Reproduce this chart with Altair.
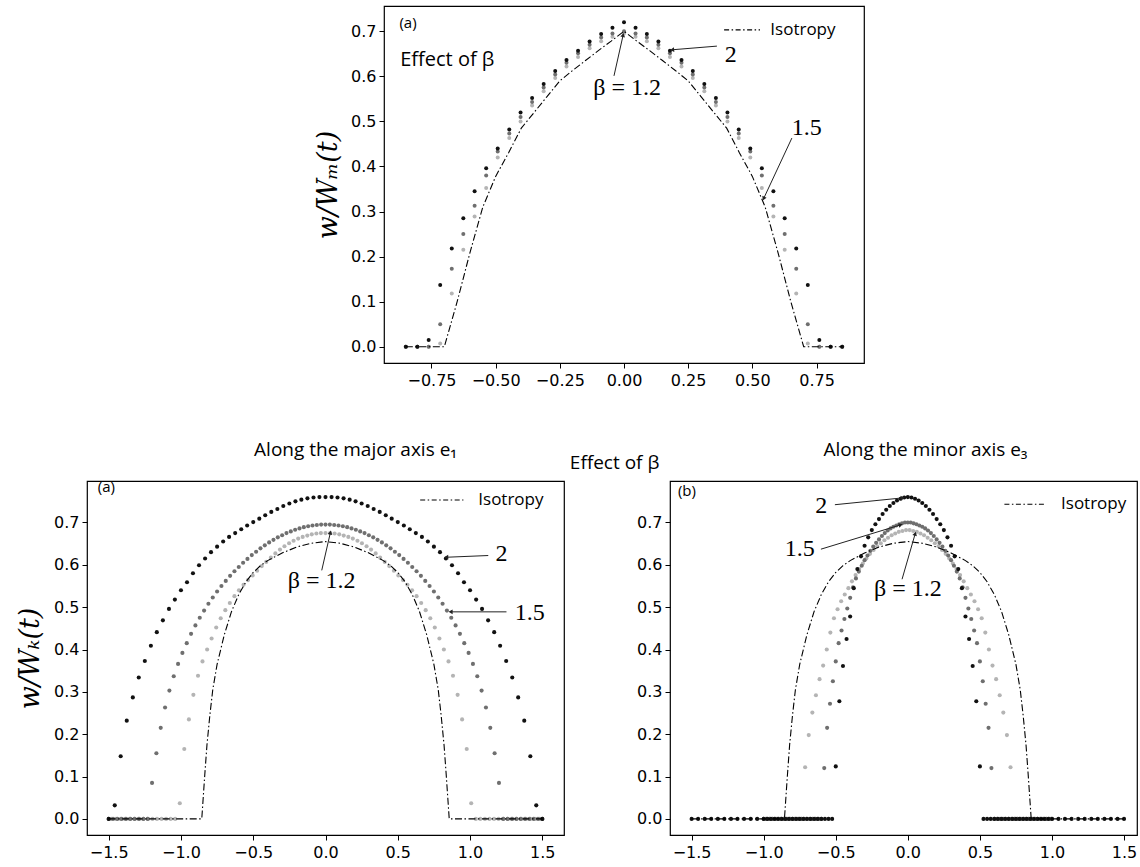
import math
import altair as alt
import pandas as pd

# ------------------------------------------------------------------ data
# Top panel (a): "Effect of beta" (half profiles, x >= 0, curves are symmetric)
top_x_half = [0.0, 0.045, 0.089, 0.134, 0.179, 0.224, 0.268, 0.313, 0.358, 0.403,
              0.447, 0.492, 0.537, 0.582, 0.626, 0.671, 0.716, 0.761, 0.805, 0.85]
top_beta2 = [0.720, 0.708, 0.694, 0.677, 0.657, 0.636, 0.612, 0.583, 0.552, 0.520,
             0.482, 0.440, 0.396, 0.345, 0.285, 0.218, 0.137, 0.015, 0.0, 0.0]
top_beta15 = [0.700, 0.695, 0.686, 0.670, 0.651, 0.630, 0.604, 0.575, 0.543, 0.510,
              0.473, 0.433, 0.380, 0.313, 0.250, 0.173, 0.050, 0.0, 0.0, 0.0]
top_beta12 = [0.695, 0.688, 0.678, 0.662, 0.643, 0.622, 0.596, 0.567, 0.535, 0.500,
              0.463, 0.420, 0.352, 0.289, 0.215, 0.118, 0.007, 0.0, 0.0, 0.0]
top_iso_x = [0.0, 0.05, 0.1, 0.15, 0.2, 0.25, 0.3, 0.35, 0.4, 0.45, 0.5, 0.55,
             0.6, 0.65, 0.7, 0.75, 0.8, 0.85]
top_iso_y = [0.700, 0.678, 0.657, 0.635, 0.613, 0.590, 0.555, 0.520, 0.485, 0.430,
             0.378, 0.310, 0.209, 0.100, 0.0, 0.0, 0.0, 0.0]

# Bottom-left (a): along the major axis e1
maj_b2_x = [0.0, 0.042, 0.083, 0.125, 0.167, 0.208, 0.25, 0.292, 0.333, 0.375,
            0.417, 0.458, 0.5, 0.542, 0.583, 0.625, 0.667, 0.708, 0.75, 0.792,
            0.833, 0.875, 0.917, 0.958, 1.0, 1.042, 1.083, 1.125, 1.167, 1.208,
            1.25, 1.292, 1.333, 1.375, 1.417, 1.458, 1.5]
maj_b2_y = [0.760, 0.760, 0.759, 0.757, 0.754, 0.750, 0.745, 0.739, 0.732, 0.725,
            0.717, 0.709, 0.701, 0.693, 0.684, 0.675, 0.666, 0.655, 0.643, 0.630,
            0.615, 0.599, 0.580, 0.559, 0.540, 0.518, 0.496, 0.469, 0.441, 0.409,
            0.373, 0.334, 0.287, 0.232, 0.148, 0.032, 0.0]
maj_b15_x = [0.0, 0.03, 0.06, 0.09, 0.12, 0.15, 0.18, 0.21, 0.24, 0.27,
             0.3, 0.33, 0.36, 0.39, 0.42, 0.45, 0.48, 0.51, 0.54, 0.57,
             0.6, 0.63, 0.66, 0.69, 0.72, 0.75, 0.78, 0.81, 0.84, 0.87,
             0.9, 0.93, 0.96, 0.99, 1.02, 1.05, 1.08, 1.11, 1.14, 1.17,
             1.2, 1.23, 1.26, 1.29, 1.32, 1.35, 1.38, 1.41, 1.44, 1.47, 1.5]
maj_b15_y = [0.695, 0.695, 0.694, 0.693, 0.691, 0.689, 0.686, 0.683, 0.679, 0.675,
             0.670, 0.665, 0.659, 0.653, 0.646, 0.639, 0.631, 0.623, 0.614, 0.605,
             0.595, 0.585, 0.574, 0.562, 0.550, 0.537, 0.523, 0.508, 0.492, 0.475,
             0.457, 0.437, 0.415, 0.392, 0.366, 0.337, 0.303, 0.263, 0.215, 0.155,
             0.085, 0.0, 0.0, 0.0, 0.0, 0.0, 0.0, 0.0, 0.0, 0.0, 0.0]
maj_b12_x = [0.0, 0.032, 0.063, 0.095, 0.126, 0.158, 0.189, 0.221, 0.252, 0.284,
             0.315, 0.347, 0.378, 0.41, 0.441, 0.473, 0.504, 0.536, 0.567, 0.599,
             0.63, 0.662, 0.693, 0.725, 0.756, 0.788, 0.819, 0.851, 0.882, 0.914,
             0.945, 0.977, 1.008, 1.04, 1.071, 1.103, 1.134, 1.166, 1.197, 1.229,
             1.26, 1.292, 1.323, 1.355, 1.386, 1.418, 1.449, 1.481]
maj_b12_y = [0.675, 0.675, 0.674, 0.672, 0.669, 0.666, 0.662, 0.657, 0.651, 0.644,
             0.636, 0.627, 0.617, 0.607, 0.597, 0.586, 0.575, 0.564, 0.553, 0.540,
             0.526, 0.510, 0.493, 0.474, 0.452, 0.426, 0.400, 0.372, 0.338, 0.293,
             0.235, 0.165, 0.037, 0.0, 0.0, 0.0, 0.0, 0.0, 0.0, 0.0,
             0.0, 0.0, 0.0, 0.0, 0.0, 0.0, 0.0, 0.0]
iso_x = [0.0, 0.1, 0.2, 0.3, 0.4, 0.45, 0.5, 0.55, 0.6, 0.65, 0.7, 0.75, 0.78,
         0.8, 0.82, 0.835, 0.848, 0.856, 0.9, 1.0, 1.1, 1.2, 1.3, 1.4, 1.5]
iso_y = [0.655, 0.651, 0.642, 0.628, 0.610, 0.598, 0.582, 0.560, 0.530, 0.490,
         0.435, 0.365, 0.305, 0.245, 0.175, 0.105, 0.040, 0.0, 0.0, 0.0, 0.0,
         0.0, 0.0, 0.0, 0.0]

# Bottom-right (b): along the minor axis e3
min_b2_x = [0.0, 0.025, 0.05, 0.075, 0.1, 0.125, 0.15, 0.175, 0.2, 0.225,
            0.25, 0.275, 0.3, 0.325, 0.35, 0.375, 0.4, 0.425, 0.45, 0.475, 0.5,
            0.525, 0.55, 0.575, 0.6, 0.625, 0.65, 0.675, 0.7, 0.725, 0.75,
            0.775, 0.8, 0.825, 0.85, 0.875, 0.9, 0.925, 0.95, 0.975, 1.0,
            1.045, 1.09, 1.136, 1.182, 1.227, 1.273, 1.318, 1.364, 1.409, 1.455, 1.5]
min_b2_y = [0.760, 0.759, 0.756, 0.752, 0.746, 0.739, 0.730, 0.720, 0.708, 0.696,
            0.682, 0.665, 0.645, 0.620, 0.590, 0.545, 0.478, 0.425, 0.361, 0.278, 0.124,
            0.0, 0.0, 0.0, 0.0, 0.0, 0.0, 0.0, 0.0, 0.0, 0.0,
            0.0, 0.0, 0.0, 0.0, 0.0, 0.0, 0.0, 0.0, 0.0, 0.0,
            0.0, 0.0, 0.0, 0.0, 0.0, 0.0, 0.0, 0.0, 0.0, 0.0, 0.0]
min_b15_x = [0.0, 0.02, 0.04, 0.06, 0.08, 0.1, 0.12, 0.14, 0.16, 0.18,
             0.2, 0.22, 0.24, 0.26, 0.28, 0.3, 0.32, 0.34, 0.36, 0.38,
             0.4, 0.42, 0.44, 0.46, 0.48, 0.5, 0.52, 0.54, 0.56, 0.58,
             0.6, 0.62, 0.64, 0.66, 0.68, 0.7, 0.72, 0.74, 0.76, 0.78,
             0.8, 0.82, 0.84, 0.86, 0.88, 0.9, 0.92, 0.94, 0.96, 0.98, 1.0]
min_b15_y = [0.700, 0.700, 0.698, 0.696, 0.693, 0.690, 0.686, 0.681, 0.675, 0.668,
             0.660, 0.652, 0.643, 0.633, 0.622, 0.611, 0.598, 0.584, 0.568, 0.547,
             0.522, 0.497, 0.472, 0.445, 0.415, 0.372, 0.325, 0.272, 0.215, 0.120,
             0.0, 0.0, 0.0, 0.0, 0.0, 0.0, 0.0, 0.0, 0.0, 0.0,
             0.0, 0.0, 0.0, 0.0, 0.0, 0.0, 0.0, 0.0, 0.0, 0.0, 0.0]
min_b12_x = [0.0125, 0.0375, 0.0625, 0.0875, 0.1125, 0.1375, 0.1625, 0.1875, 0.2125, 0.2375,
             0.2625, 0.2875, 0.3125, 0.3375, 0.3625, 0.3875, 0.4125, 0.4375, 0.4625, 0.4875,
             0.5125, 0.5375, 0.5625, 0.5875, 0.6125, 0.6375, 0.6625, 0.6875, 0.7125, 0.7375,
             0.7625, 0.7875, 0.8125, 0.8375, 0.8625, 0.8875, 0.9125, 0.9375, 0.9625, 0.9875]
min_b12_y = [0.682, 0.680, 0.678, 0.674, 0.670, 0.664, 0.658, 0.651, 0.644, 0.635,
             0.626, 0.615, 0.603, 0.590, 0.576, 0.561, 0.545, 0.530, 0.514, 0.495,
             0.474, 0.440, 0.400, 0.362, 0.330, 0.292, 0.251, 0.198, 0.122, 0.0,
             0.0, 0.0, 0.0, 0.0, 0.0, 0.0, 0.0, 0.0, 0.0, 0.0]

SERIES_COLORS = {"b12": "#b4b4b4", "b15": "#6f6f6f", "b20": "#111111"}

for a, b in [(top_x_half, top_beta2), (top_x_half, top_beta15), (top_x_half, top_beta12),
             (top_iso_x, top_iso_y), (maj_b2_x, maj_b2_y), (maj_b15_x, maj_b15_y),
             (maj_b12_x, maj_b12_y), (iso_x, iso_y), (min_b2_x, min_b2_y),
             (min_b15_x, min_b15_y), (min_b12_x, min_b12_y)]:
    assert len(a) == len(b), (len(a), len(b))


def mirror(xh, yh):
    """Symmetric curve from its x >= 0 half."""
    if xh[0] == 0.0:
        xs = [-v for v in reversed(xh[1:])] + list(xh)
        ys = list(reversed(yh[1:])) + list(yh)
    else:
        xs = [-v for v in reversed(xh)] + list(xh)
        ys = list(reversed(yh)) + list(yh)
    return pd.DataFrame({"x": xs, "y": ys})


# ------------------------------------------------------------------ helpers
MINUS = "\u2212"


def make_panel(series, iso, xdom, ydom, width, height, xticks, xfmt, ytitle,
               labels, arrows, legend, dot_size, ytitle_pad):
    xs = alt.Scale(domain=xdom, nice=False, zero=False)
    ys = alt.Scale(domain=ydom, nice=False, zero=False)
    X = alt.X("x:Q", scale=xs, title="",
              axis=alt.Axis(values=xticks, labelExpr=f"replace(format(datum.value, '{xfmt}'), '-', '{MINUS}')",
                            grid=False, domain=False, tickSize=5, tickWidth=1, tickColor="black",
                            labelFont="DejaVu Sans", labelFontSize=16, labelColor="black",
                            labelPadding=4, labelFlush=False, labelOverlap=False))
    Y = alt.Y("y:Q", scale=ys, title=ytitle,
              axis=alt.Axis(values=[0, 0.1, 0.2, 0.3, 0.4, 0.5, 0.6, 0.7],
                            labelExpr="format(datum.value, '.1f')",
                            grid=False, domain=False, tickSize=5, tickWidth=1, tickColor="black",
                            labelFont="DejaVu Sans", labelFontSize=16, labelColor="black",
                            labelPadding=3, labelFlush=False, labelOverlap=False,
                            titleFont="DejaVu Serif", titleFontStyle="italic",
                            titleFontWeight="normal", titleFontSize=27, titleColor="black",
                            titlePadding=ytitle_pad))
    layers = []
    for key, df in series:
        layers.append(alt.Chart(df).mark_circle(size=dot_size, color=SERIES_COLORS[key], opacity=1)
                      .encode(x=X, y=Y))
    layers.append(alt.Chart(iso).mark_line(color="black", strokeWidth=1.1,
                                           strokeDash=[7, 2.5, 1.5, 2.5])
                  .encode(x=X, y=Y, order="x:Q"))
    # legend (dash-dot sample + label)
    lx1, lx2, ly, tx = legend
    layers.append(alt.Chart(pd.DataFrame({"x": [lx1, lx2], "y": [ly, ly]}))
                  .mark_line(color="black", strokeWidth=1.1, strokeDash=[5, 2.5, 1.5, 2.5])
                  .encode(x=X, y=Y))
    layers.append(alt.Chart(pd.DataFrame({"x": [tx], "y": [ly], "t": ["Isotropy"]}))
                  .mark_text(font="Open Sans", fontSize=17, align="left", baseline="middle", color="black")
                  .encode(x=X, y=Y, text="t:N"))
    # text labels
    for (t, x, y, font, size, align, style) in labels:
        layers.append(alt.Chart(pd.DataFrame({"x": [x], "y": [y], "t": [t]}))
                      .mark_text(font=font, fontSize=size, align=align, baseline="middle",
                                 fontStyle=style, color="black")
                      .encode(x=X, y=Y, text="t:N"))
    # arrows
    if arrows:
        sx = width / (xdom[1] - xdom[0])
        sy = height / (ydom[1] - ydom[0])
        adf = pd.DataFrame(arrows, columns=["x", "y", "x2", "y2"])
        heads = []
        for (x1, y1, x2, y2) in arrows:
            dx = (x2 - x1) * sx
            dy = -(y2 - y1) * sy
            ang = math.degrees(math.atan2(dx, -dy)) % 360
            heads.append({"x": x2, "y": y2, "ang": ang})
        layers.append(alt.Chart(adf).mark_rule(color="#222222", strokeWidth=1)
                      .encode(x=X, y=Y, x2="x2:Q", y2="y2:Q"))
        layers.append(alt.Chart(pd.DataFrame(heads))
                      .mark_point(shape="triangle", filled=True, size=22, color="#222222",
                                  opacity=1, strokeWidth=0)
                      .encode(x=X, y=Y, angle=alt.Angle("ang:Q", scale=None)))
    return alt.layer(*layers).properties(width=width, height=height)


SERIF = "Liberation Serif"
SANS = "Open Sans"

# ------------------------------------------------------------------ top panel
top = make_panel(
    series=[("b12", mirror(top_x_half, top_beta12)),
            ("b15", mirror(top_x_half, top_beta15)),
            ("b20", mirror(top_x_half, top_beta2))],
    iso=mirror(top_iso_x, top_iso_y),
    xdom=[-0.935, 0.935], ydom=[-0.036, 0.756], width=480, height=357,
    xticks=[-0.75, -0.5, -0.25, 0, 0.25, 0.5, 0.75], xfmt=".2f",
    ytitle="w/W\u2098(t)",
    labels=[("(a)", -0.875, 0.719, SANS, 15, "left", "normal"),
            ("Effect of \u03b2", -0.872, 0.637, SANS, 20, "left", "normal"),
            ("2", 0.416, 0.648, SERIF, 24, "center", "normal"),
            ("1.5", 0.712, 0.485, SERIF, 24, "center", "normal"),
            ("\u03b2 = 1.2", 0.012, 0.574, SERIF, 24, "center", "normal")],
    arrows=[(0.362, 0.667, 0.19, 0.659),
            (0.654, 0.463, 0.545, 0.33),
            (-0.039, 0.601, -0.004, 0.690)],
    legend=(0.39, 0.53, 0.703, 0.57),
    dot_size=16, ytitle_pad=8)

spacer = (alt.Chart(pd.DataFrame({"v": [0]}))
          .mark_point(opacity=0, size=1)
          .encode(x=alt.value(0), y=alt.value(0))
          .properties(width=297, height=357, view=alt.ViewBackground(stroke="transparent")))

# ------------------------------------------------------------------ bottom-left
left = make_panel(
    series=[("b12", mirror(maj_b12_x, maj_b12_y)),
            ("b15", mirror(maj_b15_x, maj_b15_y)),
            ("b20", mirror(maj_b2_x, maj_b2_y))],
    iso=mirror(iso_x, iso_y),
    xdom=[-1.65, 1.65], ydom=[-0.038, 0.798], width=477, height=354,
    xticks=[-1.5, -1.0, -0.5, 0, 0.5, 1.0, 1.5], xfmt=".1f",
    ytitle="w/W\u2096(t)",
    labels=[("(a)", -1.575, 0.784, SANS, 15, "left", "normal"),
            ("2", 1.218, 0.625, SERIF, 24, "center", "normal"),
            ("1.5", 1.413, 0.487, SERIF, 24, "center", "normal"),
            ("\u03b2 = 1.2", -0.027, 0.563, SERIF, 24, "center", "normal"),
            ("Effect of \u03b2", 2.0, 0.840, SANS, 19, "center", "normal")],
    arrows=[(1.126, 0.622, 0.84, 0.618),
            (1.252, 0.489, 0.87, 0.489),
            (-0.026, 0.587, 0.033, 0.675)],
    legend=(0.655, 0.954, 0.753, 1.057),
    dot_size=17, ytitle_pad=9,
).properties(title=alt.TitleParams("Along the major axis e\u2081", anchor="middle", frame="group",
                                   offset=21, dx=30, dy=27, font=SANS, fontSize=19, fontWeight="normal",
                                   color="black"))

# ------------------------------------------------------------------ bottom-right
right = make_panel(
    series=[("b12", mirror(min_b12_x, min_b12_y)),
            ("b15", mirror(min_b15_x, min_b15_y)),
            ("b20", mirror(min_b2_x, min_b2_y))],
    iso=mirror(iso_x, iso_y),
    xdom=[-1.65, 1.59], ydom=[-0.038, 0.798], width=467, height=354,
    xticks=[-1.5, -1.0, -0.5, 0, 0.5, 1.0, 1.5], xfmt=".1f",
    ytitle="",
    labels=[("(b)", -1.595, 0.775, SANS, 15, "left", "normal"),
            ("2", -0.60, 0.74, SERIF, 24, "center", "normal"),
            ("1.5", -0.75, 0.637, SERIF, 24, "center", "normal"),
            ("\u03b2 = 1.2", 0.0, 0.543, SERIF, 24, "center", "normal")],
    arrows=[(-0.506, 0.742, -0.04, 0.758),
            (-0.603, 0.637, -0.054, 0.694),
            (-0.04, 0.566, 0.05, 0.672)],
    legend=(0.67, 0.95, 0.743, 1.063),
    dot_size=17, ytitle_pad=9,
).properties(title=alt.TitleParams("Along the minor axis e\u2083", anchor="middle", frame="group",
                                   offset=21, dx=22, font=SANS, fontSize=19, fontWeight="normal",
                                   color="black"))

row1 = alt.hconcat(spacer, top, spacing=0, bounds="flush")
row2 = alt.hconcat(left, right, spacing=106, bounds="flush")

chart = (alt.vconcat(row1, row2, spacing=51,
                     padding={"left": 15, "top": 4, "right": 0, "bottom": 0},
                     background="white")
         .configure_view(stroke="black", strokeWidth=1.2))

chart.save("out.html", embed_options={"renderer": "svg", "actions": False})
